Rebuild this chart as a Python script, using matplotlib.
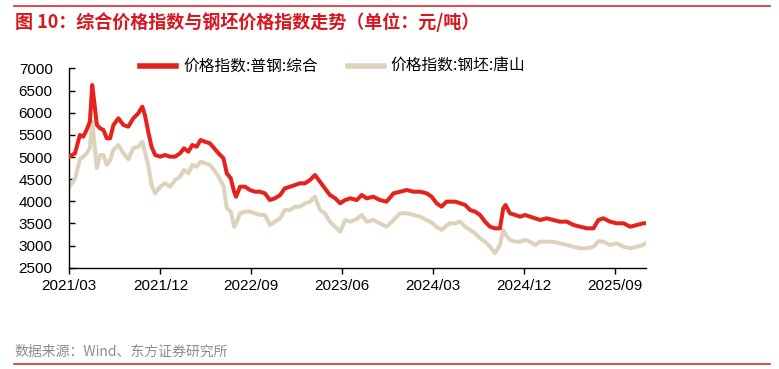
import matplotlib
matplotlib.use("Agg")
import matplotlib.pyplot as plt
import pandas as pd

plt.rcParams['font.family'] = ['Liberation Sans', 'Noto Sans CJK SC', 'DejaVu Sans']

dates = [
    "2021-03-01", "2021-03-18", "2021-04-02", "2021-04-12", "2021-04-22", "2021-05-02",
    "2021-05-09", "2021-05-15", "2021-05-23", "2021-06-02", "2021-06-12", "2021-06-22",
    "2021-07-02", "2021-07-12", "2021-07-27", "2021-08-11", "2021-08-26", "2021-09-10",
    "2021-09-25", "2021-10-07", "2021-10-15", "2021-10-25", "2021-11-04", "2021-11-15",
    "2021-11-30", "2021-12-15",
    "2021-12-30", "2022-01-14", "2022-01-29", "2022-02-10", "2022-02-23", "2022-03-07",
    "2022-03-20", "2022-04-01", "2022-04-14", "2022-04-29", "2022-05-12", "2022-05-25",
    "2022-06-09", "2022-06-19", "2022-07-01", "2022-07-11", "2022-07-17", "2022-07-29",
    "2022-08-13", "2022-08-28", "2022-09-12", "2022-09-27",
    "2022-10-12", "2022-10-27", "2022-11-11", "2022-11-27", "2022-12-11", "2022-12-27",
    "2023-01-11", "2023-01-26", "2023-02-10", "2023-02-25", "2023-03-12", "2023-03-27",
    "2023-04-11", "2023-04-26", "2023-05-12", "2023-05-27", "2023-06-11", "2023-06-26",
    "2023-07-16", "2023-07-31", "2023-08-15", "2023-09-04", "2023-09-24", "2023-10-14",
    "2023-11-04", "2023-11-24", "2023-12-14", "2024-01-03", "2024-01-23", "2024-02-12",
    "2024-02-27", "2024-03-13", "2024-03-28", "2024-04-12",
    "2024-04-22", "2024-05-08", "2024-05-23", "2024-06-07", "2024-06-22", "2024-07-07",
    "2024-07-22", "2024-08-06", "2024-08-21", "2024-09-05", "2024-09-20", "2024-09-30",
    "2024-10-07", "2024-10-20", "2024-11-05", "2024-11-20", "2024-12-05", "2024-12-20",
    "2025-01-04", "2025-01-19",
    "2025-02-08", "2025-02-28", "2025-03-20", "2025-04-10", "2025-04-30", "2025-05-20",
    "2025-06-09", "2025-06-29", "2025-07-14", "2025-07-29", "2025-08-18", "2025-09-07",
    "2025-09-28", "2025-10-18", "2025-11-07", "2025-11-27", "2025-12-04",
]

composite = [
    5008, 5084, 5498, 5460, 5611, 5798,
    6627, 6250, 5724, 5648, 5611, 5423,
    5423, 5724, 5875, 5724, 5685, 5875,
    5988, 6137, 5950, 5572, 5233, 5046,
    5008, 5046,
    5008, 5008, 5084, 5197, 5121, 5272,
    5233, 5385, 5346, 5310, 5197, 5084,
    4971, 4632, 4519, 4217, 4104, 4330,
    4330, 4255, 4217, 4217,
    4180, 4029, 4067, 4142, 4293, 4330,
    4368, 4406, 4406, 4481, 4594, 4443,
    4293, 4142, 4067, 3955, 4029, 4067,
    4029, 4142, 4067, 4104, 4029, 3992,
    4180, 4217, 4255, 4217, 4217, 4180,
    4104, 3955, 3879, 3992,
    3992, 3992, 3955, 3917, 3804, 3767,
    3691, 3540, 3426, 3390, 3390, 3842,
    3917, 3729, 3691, 3653, 3691, 3653,
    3616, 3578,
    3616, 3578, 3540, 3540, 3465, 3426,
    3390, 3390, 3578, 3616, 3540, 3503,
    3503, 3426, 3465, 3503, 3503,
]

billet = [
    4330, 4500, 4950, 5008, 5080, 5200,
    5798, 5346, 4750, 5046, 5046, 4820,
    4933, 5159, 5272, 5084, 4950, 5200,
    5233, 5346, 5121, 4820, 4368, 4180,
    4330, 4406,
    4330, 4481, 4557, 4707, 4632, 4820,
    4782, 4895, 4858, 4820, 4707, 4557,
    4350, 3842, 3767, 3426, 3500, 3729,
    3767, 3767, 3729, 3691,
    3691, 3465, 3540, 3616, 3804, 3804,
    3879, 3879, 3955, 3992, 4104, 3804,
    3729, 3540, 3426, 3313, 3578, 3540,
    3600, 3691, 3540, 3578, 3503, 3426,
    3578, 3729, 3729, 3691, 3653, 3578,
    3520, 3420, 3352, 3450,
    3503, 3503, 3540, 3426, 3352, 3277,
    3164, 3088, 2975, 2825, 3013, 3352,
    3250, 3126, 3088, 3088, 3126, 3088,
    3013, 3088,
    3088, 3088, 3051, 3013, 2975, 2938,
    2938, 2975, 3100, 3088, 3013, 3051,
    2975, 2938, 2975, 3013, 3051,
]

series_names = ["价格指数:普钢:综合", "价格指数:钢坯:唐山"]
tick_labels = ["2021/03", "2021/12", "2022/09", "2023/06", "2024/03", "2024/12", "2025/09"]
title_text = "图 10：综合价格指数与钢坯价格指数走势（单位：元/吨）"
source_text = "数据来源：Wind、东方证券研究所"

RED = "#E3231C"
BEIGE = "#DDD3BC"
CJK = ['Noto Sans CJK SC', 'DejaVu Sans']

x = pd.to_datetime(dates)

fig = plt.figure(figsize=(7.79, 3.69), dpi=100)
ax = fig.add_axes([0.089, 0.2745, 0.740, 0.5399])

ax.plot(x, composite, color=RED, lw=2.9, solid_joinstyle='round', label=series_names[0], zorder=3)
ax.plot(x, billet, color=BEIGE, lw=2.9, solid_joinstyle='round', label=series_names[1], zorder=2)

ax.set_ylim(2500, 7000)
ax.set_yticks(range(2500, 7001, 500))
ax.set_xlim(pd.Timestamp("2021-03-01"), pd.Timestamp("2025-12-04"))
ticks = pd.to_datetime([t.replace("/", "-") + "-01" for t in tick_labels])
ax.set_xticks(ticks)
ax.set_xticklabels(tick_labels)

for s in ["top", "right"]:
    ax.spines[s].set_visible(False)
for s in ["left", "bottom"]:
    ax.spines[s].set_color("black")
    ax.spines[s].set_linewidth(1.0)
ax.tick_params(axis='y', direction='in', length=4, width=1, labelsize=11, pad=12)
ax.tick_params(axis='x', direction='out', length=4, width=1, labelsize=11, pad=4)

leg = ax.legend(loc='center', bbox_to_anchor=(0.457, 1.01), ncol=2, frameon=False,
                handlelength=2.3, columnspacing=1.9, handletextpad=0.45,
                prop={'family': CJK, 'size': 11.3})
for lh in leg.get_lines():
    lh.set_linewidth(4)

fig.text(0.019, 0.94, title_text, color="#D7161E", fontsize=13, fontweight='bold',
         family=CJK, va='center', ha='left')
fig.add_artist(plt.Line2D([0.018, 0.989], [0.984, 0.984], color="#E0262C", lw=1.2))
fig.text(0.019, 0.046, source_text, color="#8C8C8C", fontsize=10,
         family=CJK, va='center', ha='left')
fig.add_artist(plt.Line2D([0.018, 0.989], [0.013, 0.013], color="#E0262C", lw=1.2))

fig.savefig("out.png", dpi=100)
